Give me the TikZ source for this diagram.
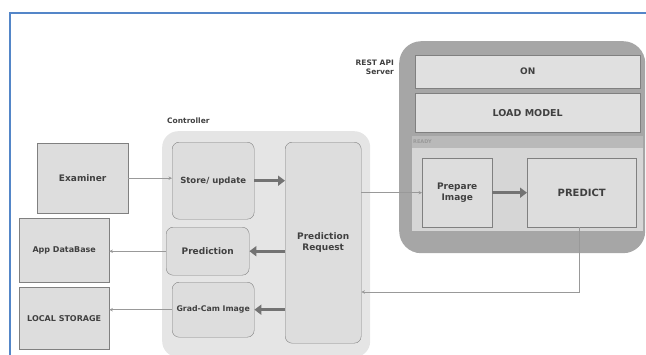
\documentclass[tikz,border=0pt]{standalone}
\usepackage{fontspec}
\setmainfont{DejaVu Sans}
\usepackage{tikz}
\usetikzlibrary{arrows.meta,positioning,calc}

\definecolor{frameblue}{RGB}{84,134,200}

\begin{document}
\begin{tikzpicture}[
    x=1pt, y=-1pt,
    node distance=5pt,
    unit/.style={rectangle, draw=black!50, fill=gray!27, inner sep=1pt, align=center, anchor=north west, text=black!75, font=\bfseries\fontsize{9}{10.5}\selectfont},
    module/.style={unit, rounded corners=7pt},
    panel/.style={rectangle, draw=none, anchor=north west, inner sep=0pt},
    lbl/.style={inner sep=0pt, text=black!75, font=\bfseries\fontsize{7.5}{8.5}\selectfont},
    flow/.style={-{Triangle[length=7pt, width=10pt]}, line width=3.2pt, draw=black!55},
    link/.style={-{Stealth[length=3.5pt, width=3.5pt]}, line width=0.7pt, draw=black!40},
]
    \useasboundingbox (0,0) rectangle (646,354);
    \draw[frameblue, line width=1.8pt] (10,358) |- (650,13);

    % controller side
    \node[panel, fill=gray!20, rounded corners=16pt, minimum width=208pt, minimum height=226pt] (ctrl) at (162,131) {};
    \node[lbl, anchor=west] (ctrllbl) at (167,121) {Controller};

    \node[unit, minimum width=91pt, minimum height=70pt] (examiner) at (37,143) {Examiner};
    \node[unit, minimum width=90pt, minimum height=64pt, font=\bfseries\fontsize{8}{9.5}\selectfont] (appdb) at (19,218) {App DataBase};
    \node[unit, minimum width=90pt, minimum height=62pt, font=\bfseries\fontsize{8}{9.5}\selectfont, below=of appdb] (local) {LOCAL STORAGE};

    \node[module, minimum width=82pt, minimum height=77pt, font=\bfseries\fontsize{8.5}{10}\selectfont] (store) at (172,142) {Store/ update};
    \node[module, minimum width=83pt, minimum height=48pt] (pred) at (166,227) {Prediction};
    \node[module, minimum width=82pt, minimum height=55pt, font=\bfseries\fontsize{7.8}{9}\selectfont] (grad) at (172,282) {Grad-Cam Image};
    \node[module, minimum width=76pt, minimum height=201pt] (req) at (285,142) {Prediction\\Request};

    % server side
    \node[panel, fill=gray!70, rounded corners=22pt, minimum width=246pt, minimum height=212pt] (server) at (399,41) {};
    \node[lbl, align=right, anchor=north east] (restlbl) at (394,60) {REST API\\Server};

    \node[unit, fill=gray!24, minimum width=225pt, minimum height=33pt] (on) at (415,55) {ON};
    \node[unit, fill=gray!24, minimum width=225pt, minimum height=39pt, font=\bfseries\fontsize{9.5}{11}\selectfont, below=of on] (load) {LOAD MODEL};

    \node[panel, fill=gray!55, minimum width=231pt, minimum height=12pt] (readyband) at (412,136) {};
    \node[lbl, anchor=west, text=black!40, font=\bfseries\fontsize{5}{6}\selectfont] (readylbl) at (413,142) {READY};
    \node[panel, fill=gray!32, minimum width=231pt, minimum height=83pt] (readyarea) at (412,148) {};

    \node[unit, minimum width=70pt, minimum height=69pt] (prep) at (422,158) {Prepare\\Image};
    \node[unit, minimum width=109pt, minimum height=69pt, font=\bfseries\fontsize{10}{12}\selectfont] (predict) at (527,158) {PREDICT};

    % connectors
    \coordinate (back) at (579,292);
    \draw[link] (examiner.east) -- (examiner.east -| store.west);
    \draw[flow] (store.east) -- (store.east -| req.west);
    \draw[flow] (req.west |- pred.east) -- (pred.east);
    \draw[flow] (req.west |- grad.east) -- (grad.east);
    \draw[link] (pred.west) -- (pred.west -| appdb.east);
    \draw[link] (grad.west) -- (grad.west -| local.east);
    \draw[link] (req.east |- prep.west) -- (prep.west);
    \draw[flow] (prep.east) -- (predict.west);
    \draw[link] (predict.south -| back) -- (back) -- (req.east |- back);
\end{tikzpicture}
\end{document}
